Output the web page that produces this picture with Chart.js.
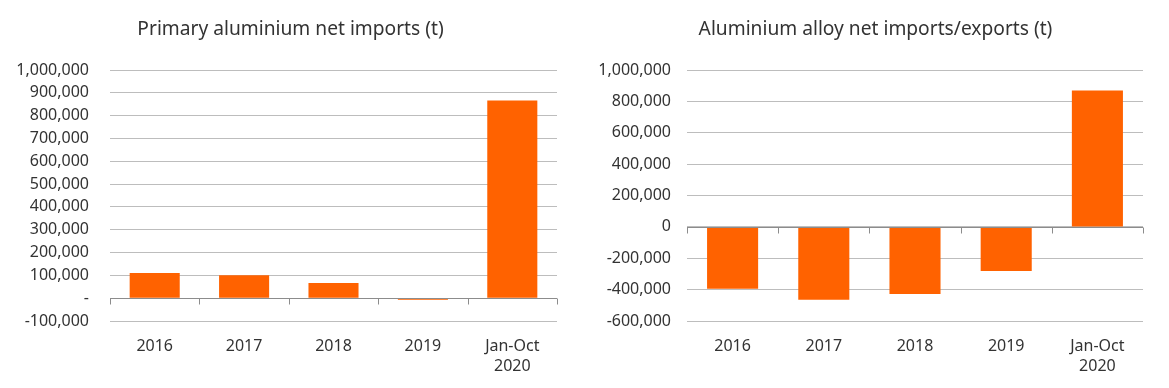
<!DOCTYPE html>
<html>
<head>
<meta charset="utf-8">
<script src="https://cdn.jsdelivr.net/npm/chart.js@4"></script>
<style>
  html, body { margin: 0; padding: 0; background: #fff; }
  #wrap { position: relative; width: 1169px; height: 388px; }
  #c1 { position: absolute; left: 0; top: 0; }
  #c2 { position: absolute; left: 584px; top: 0; }
</style>
</head>
<body>
<div id="wrap">
  <canvas id="c1" width="584" height="388"></canvas>
  <canvas id="c2" width="585" height="388"></canvas>
</div>
<script>
// categories shared by both charts
var categorias = ['2016', '2017', '2018', '2019', ['Jan-Oct', '2020']];

// primary aluminium net imports (t)
var primarioValores = [110000, 100000, 67000, -7000, 866000];
// aluminium alloy net imports/exports (t)
var ligaValores = [-395000, -465000, -428000, -281000, 869000];

var primarioTitulo = 'Primary aluminium net imports (t)';
var ligaTitulo = 'Aluminium alloy net imports/exports (t)';

var laranja = '#ff6200';
var corTexto = '#333333';
var fonte = '"Noto Sans", sans-serif';

function formataNumero(v, zeroTexto) {
    if (v === 0) return zeroTexto;
    return v.toLocaleString('en-US');
}

// draws the zero axis line with small tick marks between categories
var linhaZero = {
    id: 'linhaZero',
    afterLayout: function(chart) {
        // nudge the title so it sits centred like the original
        if (chart.titleBlock) chart.titleBlock.left = 24;
    },
    afterDatasetsDraw: function(chart) {
        var ctx = chart.ctx;
        var area = chart.chartArea;
        var y = Math.round(chart.scales.y.getPixelForValue(0)) + 0.5;
        var n = chart.data.labels.length;
        var passo = (area.right - area.left) / n;
        ctx.save();
        ctx.strokeStyle = '#8c8c8c';
        ctx.lineWidth = 1;
        ctx.beginPath();
        ctx.moveTo(area.left, y);
        ctx.lineTo(area.right, y);
        for (var i = 0; i <= n; i++) {
            var x = Math.round(area.left + i * passo) + 0.5;
            ctx.moveTo(x, y);
            ctx.lineTo(x, y + 6);
        }
        ctx.stroke();
        ctx.restore();
    }
};

function geraGrafico(id, titulo, valores, opcoesY) {
    var ctx = document.getElementById(id).getContext('2d');
    return new Chart(ctx, {
        type: 'bar',
        data: {
            labels: categorias,
            datasets: [{
                data: valores,
                backgroundColor: laranja,
                borderWidth: 0,
                barPercentage: 0.56,
                categoryPercentage: 1
            }]
        },
        plugins: [linhaZero],
        options: {
            responsive: false,
            animation: false,
            layout: { padding: { top: 0, right: opcoesY.direita, bottom: 0, left: 0 } },
            plugins: {
                legend: { display: false },
                tooltip: { enabled: false },
                title: {
                    display: true,
                    text: titulo,
                    color: corTexto,
                    font: { family: fonte, size: 19.2, weight: 'normal' },
                    padding: { top: 18, bottom: 29 }
                }
            },
            scales: {
                x: {
                    grid: { display: false },
                    border: { display: false },
                    ticks: {
                        color: corTexto,
                        font: { family: fonte, size: 16, lineHeight: 1.25 },
                        padding: 7,
                        maxRotation: 0
                    },
                    afterFit: function(scale) { scale.height = 67; }
                },
                y: {
                    min: opcoesY.min,
                    max: opcoesY.max,
                    grid: { color: '#bdbdbd', drawTicks: false },
                    border: { display: false },
                    ticks: {
                        stepSize: opcoesY.passo,
                        color: corTexto,
                        font: { family: fonte, size: 16 },
                        padding: opcoesY.pad,
                        callback: function(v) { return formataNumero(v, opcoesY.zero); }
                    },
                    afterFit: function(scale) { scale.width = opcoesY.largura; }
                }
            }
        }
    });
}

geraGrafico('c1', primarioTitulo, primarioValores,
    { min: -100000, max: 1000000, passo: 100000, zero: '-', largura: 110, pad: 21, direita: 27 });
geraGrafico('c2', ligaTitulo, ligaValores,
    { min: -600000, max: 1000000, passo: 200000, zero: '0', largura: 103, pad: 16, direita: 26 });
</script>
</body>
</html>
